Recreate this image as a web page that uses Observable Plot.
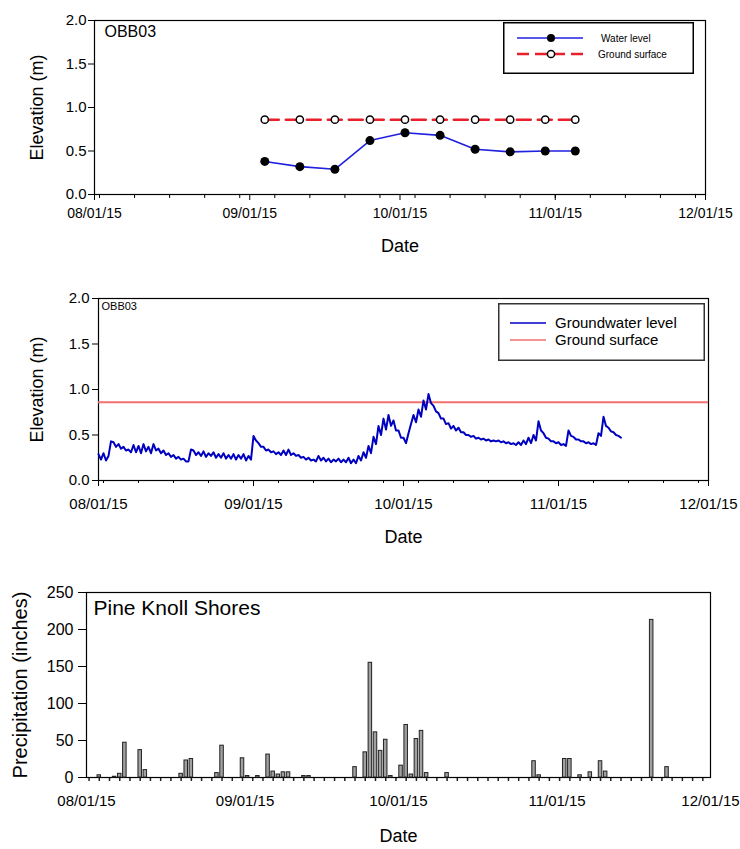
<!DOCTYPE html>
<html><head><meta charset="utf-8">
<script src="https://cdn.jsdelivr.net/npm/d3@7"></script>
<script src="https://cdn.jsdelivr.net/npm/@observablehq/plot@0.6"></script>
<style>
body{margin:0;background:#fff;font-family:"Liberation Sans",Arial,sans-serif;}
#page{position:relative;width:740px;height:849px;background:#fff;overflow:hidden;}
.panel{position:absolute;left:0;width:740px;}
.panel svg{overflow:visible;}
.legend{position:absolute;}
</style></head><body><div id="page">
<div class="panel" id="p1" style="top:0"></div>
<div class="panel" id="p2" style="top:280px"></div>
<div class="panel" id="p3" style="top:565px"></div>
<svg class="legend" style="left:503px;top:22px" width="191" height="52">
  <rect x="0.75" y="0.75" width="189.5" height="50.5" fill="white" stroke="black" stroke-width="1.5"/>
  <line x1="14" y1="16" x2="80" y2="16" stroke="#2020e0" stroke-width="1.5"/>
  <circle cx="48" cy="16" r="4" fill="black"/>
  <text x="98" y="19.5" font-size="10" font-family="Liberation Sans, Arial, sans-serif">Water level</text>
  <line x1="14" y1="32" x2="80" y2="32" stroke="#e8202a" stroke-width="2.5" stroke-dasharray="12,6"/>
  <circle cx="48" cy="32" r="3.6" fill="white" stroke="black" stroke-width="1.5"/>
  <text x="95" y="35.5" font-size="10" font-family="Liberation Sans, Arial, sans-serif">Ground surface</text>
</svg>
<svg class="legend" style="left:498px;top:303px" width="207" height="58">
  <rect x="0.75" y="0.75" width="205.5" height="56.5" fill="white" stroke="#333" stroke-width="1.5"/>
  <line x1="12" y1="20" x2="48" y2="20" stroke="#0000c8" stroke-width="1.5"/>
  <text x="57" y="25" font-size="15" font-family="Liberation Sans, Arial, sans-serif">Groundwater level</text>
  <line x1="12" y1="37" x2="48" y2="37" stroke="#f07070" stroke-width="1.5"/>
  <text x="57" y="42" font-size="15" font-family="Liberation Sans, Arial, sans-serif">Ground surface</text>
</svg>
</div>
<script>
// ---------- data ----------
const xDomain = ["2015-08-01", "2015-12-01"];
const xTickDates = ["2015-08-01", "2015-09-01", "2015-10-01", "2015-11-01", "2015-12-01"];
const elevTicks = [0, 0.5, 1.0, 1.5, 2.0];
const precipTicks = [0, 50, 100, 150, 200, 250];

const siteName = "OBB03";
const stationName = "Pine Knoll Shores";

// Panel 1: manual water level readings
const wlDates = ["2015-09-04", "2015-09-11", "2015-09-18", "2015-09-25", "2015-10-02",
                 "2015-10-09", "2015-10-16", "2015-10-23", "2015-10-30", "2015-11-05"];
const wlValues = [0.38, 0.32, 0.29, 0.62, 0.71, 0.68, 0.52, 0.49, 0.50, 0.50];
const groundSurface = 0.86;

// Panel 2: logger groundwater level, one reading every 12 h from gwStart
const gwStart = "2015-08-01T00:00:00Z";
const gwStepHours = 12;
const gwValues = [
  0.29,0.23, 0.30,0.22, 0.27,0.43, 0.42,0.37, 0.40,0.35, 0.37,0.33, 0.34,0.31, 0.39,0.31, 0.38,0.30, 0.40,0.32,
  0.37,0.30, 0.40,0.33, 0.35,0.30, 0.33,0.28, 0.30,0.26, 0.28,0.24, 0.26,0.23, 0.24,0.21, 0.21,0.34, 0.33,0.28,
  0.31,0.27, 0.32,0.26, 0.30,0.27, 0.31,0.25, 0.29,0.25, 0.30,0.24, 0.28,0.24, 0.29,0.23, 0.28,0.24, 0.29,0.22,
  0.27,0.23, 0.49,0.44, 0.41,0.37, 0.37,0.33, 0.34,0.31, 0.32,0.29, 0.31,0.28, 0.33,0.28, 0.34,0.28, 0.30,0.27,
  0.28,0.25, 0.26,0.23, 0.25,0.22, 0.23,0.21, 0.27,0.22, 0.25,0.21, 0.24,0.20, 0.23,0.21, 0.24,0.20, 0.23,0.20,
  0.25,0.19, 0.23,0.19, 0.27,0.22, 0.31,0.25, 0.38,0.30, 0.48,0.40, 0.60,0.50, 0.68,0.56, 0.72,0.60, 0.66,0.55,
  0.55,0.47, 0.47,0.41, 0.52,0.62, 0.72,0.64, 0.78,0.70, 0.88,0.78, 0.95,0.85, 0.82,0.76, 0.74,0.68, 0.68,0.62,
  0.63,0.57, 0.60,0.55, 0.58,0.53, 0.53,0.50, 0.50,0.48, 0.49,0.46, 0.47,0.45, 0.46,0.44, 0.45,0.43, 0.44,0.43,
  0.44,0.42, 0.43,0.41, 0.42,0.40, 0.41,0.39, 0.42,0.39, 0.44,0.40, 0.47,0.41, 0.50,0.44, 0.65,0.55, 0.52,0.47,
  0.46,0.43, 0.43,0.41, 0.42,0.39, 0.40,0.38, 0.55,0.49, 0.48,0.45, 0.45,0.43, 0.43,0.41, 0.42,0.40, 0.41,0.39,
  0.52,0.49, 0.70,0.60, 0.58,0.54, 0.53,0.50, 0.49,0.47
];

// Panel 3: daily precipitation
const precipDates = ["2015-08-03","2015-08-06","2015-08-07","2015-08-08","2015-08-11","2015-08-12",
  "2015-08-19","2015-08-20","2015-08-21","2015-08-26","2015-08-27","2015-08-31","2015-09-01","2015-09-03",
  "2015-09-05","2015-09-06","2015-09-07","2015-09-08","2015-09-09","2015-09-12","2015-09-13","2015-09-22",
  "2015-09-24","2015-09-25","2015-09-26","2015-09-27","2015-09-28","2015-09-29","2015-10-01","2015-10-02",
  "2015-10-03","2015-10-04","2015-10-05","2015-10-06","2015-10-10","2015-10-27","2015-10-28","2015-11-02",
  "2015-11-03","2015-11-05","2015-11-07","2015-11-09","2015-11-10","2015-11-19","2015-11-22"];
const precipValues = [3,1,5,47,37,10, 5,23,25,6,43,26,2,2, 31,8,4,7,7,2,2,14, 34,155,61,36,51,2,16,71,
  4,52,63,6,6,22,3,25, 25,3,7,22,8,213,14];

// ---------- build ----------
const D = s => new Date(s);
const fmt = d3.utcFormat("%m/%d/%y");
const FONT = "Liberation Sans, Arial, sans-serif";
const xDom = xDomain.map(D);
const majorTicks = xTickDates.map(D);

const wl = wlDates.map((d, i) => ({date: D(d), value: wlValues[i]}));
const gs = wlDates.map(d => ({date: D(d), value: groundSurface}));
const gw = gwValues.map((v, i) => ({date: d3.utcHour.offset(D(gwStart), i * gwStepHours), value: v}));
const pr = precipDates.map((d, i) => ({date: D(d), value: precipValues[i]}));

const weekTicks = d3.utcSunday.range(xDom[0], xDom[1]);
const zeroTicks = d3.utcDay.range(xDom[0], xDom[1], 2).map(d => d3.utcHour.offset(d, 12));

const yTitle = (t, dx, size) => Plot.text([t], {frameAnchor: "left", dx, rotate: -90, fontSize: size,
  textAnchor: "middle", lineAnchor: "middle"});
const xTitle = (t, dy) => Plot.text([t], {frameAnchor: "bottom", dy, fontSize: 18,
  textAnchor: "middle", lineAnchor: "middle"});

const p1 = Plot.plot({
  width: 740, height: 270, marginLeft: 94, marginRight: 35, marginTop: 20, marginBottom: 76,
  style: {fontFamily: FONT, fontSize: "14px", background: "white", color: "black"},
  x: {type: "utc", domain: xDom},
  y: {domain: [0, 2]},
  marks: [
    Plot.axisX({ticks: weekTicks, tickSize: 4, tickFormat: () => "", label: null}),
    Plot.axisX({ticks: majorTicks, tickFormat: fmt, tickSize: 6, tickPadding: 8, fontSize: 14, label: null}),
    Plot.axisY({ticks: elevTicks, tickFormat: d3.format(".1f"), tickSize: 6, tickPadding: 2, fontSize: 15, label: null}),
    Plot.frame({stroke: "black", strokeWidth: 1.2}),
    Plot.line(gs, {x: "date", y: "value", stroke: "#e8202a", strokeWidth: 2.5, strokeDasharray: "14,7"}),
    Plot.dot(gs, {x: "date", y: "value", fill: "white", stroke: "black", strokeWidth: 1.5, r: 3.6}),
    Plot.line(wl, {x: "date", y: "value", stroke: "#2020e0", strokeWidth: 1.6}),
    Plot.dot(wl, {x: "date", y: "value", fill: "black", r: 4.5}),
    Plot.text([siteName], {frameAnchor: "top-left", dx: 10, dy: 11, textAnchor: "start", lineAnchor: "middle", fontSize: 16}),
    xTitle("Date", 52),
    yTitle("Elevation (m)", -57, 18)
  ]
});
document.getElementById("p1").append(p1);

const p2 = Plot.plot({
  width: 740, height: 275, marginLeft: 98, marginRight: 32, marginTop: 18, marginBottom: 75,
  style: {fontFamily: FONT, fontSize: "14px", background: "white", color: "black"},
  x: {type: "utc", domain: xDom},
  y: {domain: [0, 2]},
  marks: [
    Plot.axisX({ticks: weekTicks, tickSize: 3, tickFormat: () => "", label: null}),
    Plot.axisX({ticks: majorTicks, tickFormat: fmt, tickSize: 6, tickPadding: 12, fontSize: 15, label: null}),
    Plot.axisY({ticks: elevTicks, tickFormat: d3.format(".1f"), tickSize: 6, tickPadding: 3, fontSize: 15, label: null}),
    Plot.frame({stroke: "black", strokeWidth: 1.2}),
    Plot.ruleY([groundSurface], {stroke: "#f07070", strokeWidth: 2}),
    Plot.line(gw, {x: "date", y: "value", stroke: "#0000c0", strokeWidth: 2}),
    Plot.text([siteName], {frameAnchor: "top-left", dx: 3, dy: 8, textAnchor: "start", lineAnchor: "middle", fontSize: 11}),
    xTitle("Date", 57),
    yTitle("Elevation (m)", -61, 18)
  ]
});
document.getElementById("p2").append(p2);

const p3 = Plot.plot({
  width: 740, height: 284, marginLeft: 86, marginRight: 30, marginTop: 27, marginBottom: 72,
  style: {fontFamily: FONT, fontSize: "14px", background: "white", color: "black"},
  x: {type: "utc", domain: xDom},
  y: {domain: [0, 250]},
  marks: [
    Plot.axisX({ticks: zeroTicks, tickSize: 4, tickFormat: () => "", stroke: "#222", strokeWidth: 1.5, label: null}),
    Plot.axisX({ticks: majorTicks, tickFormat: fmt, tickSize: 0, tickPadding: 18, fontSize: 15, label: null}),
    Plot.axisY({ticks: precipTicks, tickSize: 8, tickPadding: 5, fontSize: 16, label: null}),
    Plot.frame({stroke: "black", strokeWidth: 1.2}),
    Plot.rectY(pr, {x1: "date", x2: d => d3.utcDay.offset(d.date, 1), y: "value",
      fill: "#a0a0a0", stroke: "#222", strokeWidth: 1, insetLeft: 0.8, insetRight: 0.8}),
    Plot.text([stationName], {frameAnchor: "top-left", dx: 7, dy: 16, textAnchor: "start", lineAnchor: "middle", fontSize: 21}),
    xTitle("Date", 59),
    yTitle("Precipitation (inches)", -66, 20)
  ]
});
document.getElementById("p3").append(p3);
</script>
</body></html>
